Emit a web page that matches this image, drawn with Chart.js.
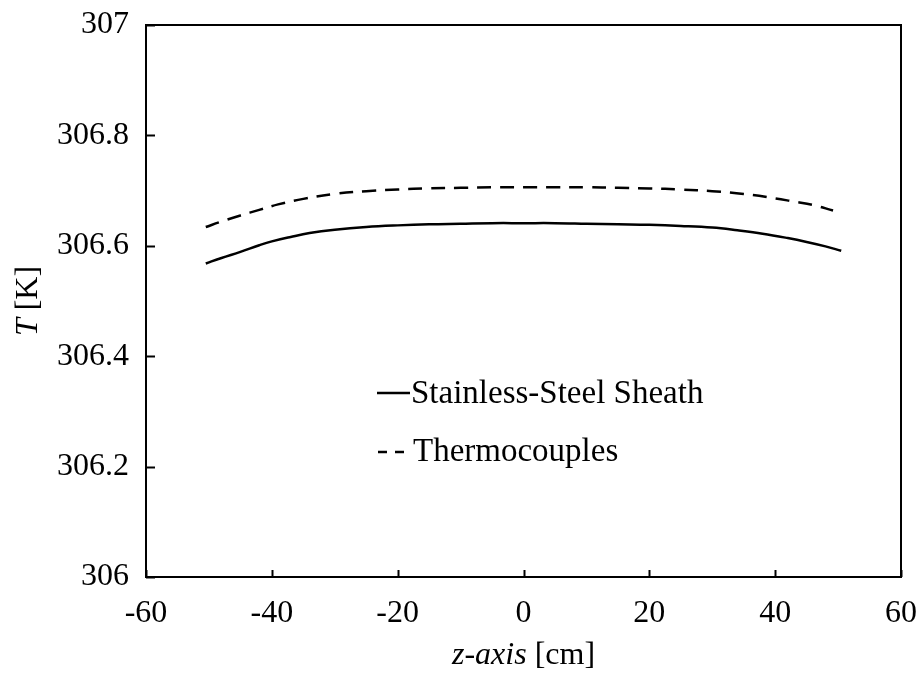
<!DOCTYPE html>
<html>
<head>
<meta charset="utf-8">
<script src="https://cdn.jsdelivr.net/npm/chart.js@4.4.1/dist/chart.umd.min.js"></script>
<style>
  html, body { margin: 0; padding: 0; background: #fff; }
  #wrap { width: 923px; height: 678px; position: relative; }
</style>
</head>
<body>
<div id="wrap"><canvas id="chart"></canvas></div>
<script>
// z position [cm] and temperature [K]
const sheathZ = [-50.5, -48, -45, -42, -40, -37, -34, -30, -25, -20, -15, -10, -5, 0, 5, 10, 15, 20, 25, 30, 34, 38, 42, 45, 48, 50.5];
const sheathT = [306.568, 306.578, 306.589, 306.601, 306.608, 306.616, 306.623, 306.629, 306.634, 306.637, 306.639, 306.640, 306.641, 306.641, 306.641, 306.640, 306.639, 306.638, 306.636, 306.633, 306.628, 306.622, 306.614, 306.607, 306.599, 306.591];

const thermoZ = [-50.5, -48, -45, -42, -39, -35, -30, -25, -20, -15, -10, -5, 0, 5, 10, 15, 20, 25, 30, 35, 40, 43, 46, 49.2];
const thermoT = [306.634, 306.644, 306.655, 306.665, 306.675, 306.685, 306.694, 306.699, 306.702, 306.704, 306.705, 306.706, 306.706, 306.706, 306.706, 306.705, 306.704, 306.702, 306.699, 306.694, 306.686, 306.680, 306.674, 306.664];

const xTicks = [-60, -40, -20, 0, 20, 40, 60];
const yTicks = [306, 306.2, 306.4, 306.6, 306.8, 307];
const seriesNames = ['Stainless-Steel Sheath', 'Thermocouples'];

const FONT = '"Liberation Serif", "Times New Roman", serif';

function pts(xs, ys) {
  return xs.map((x, i) => ({ x: x, y: ys[i] }));
}

function noPad(scale) {
  scale.paddingTop = 0;
  scale.paddingBottom = 0;
  scale.paddingLeft = 0;
  scale.paddingRight = 0;
}

// frame, inside ticks, axis titles and the in-plot legend
const decor = {
  id: 'decor',
  afterDraw(chart) {
    const ctx = chart.ctx;
    const a = chart.chartArea;
    const xs = chart.scales.x, ys = chart.scales.y;
    ctx.save();
    ctx.strokeStyle = '#000';
    ctx.lineWidth = 2;
    ctx.strokeRect(a.left, a.top, a.right - a.left, a.bottom - a.top);

    // tick marks pointing inward
    xTicks.forEach(v => {
      const px = Math.round(xs.getPixelForValue(v)) + 0.5;
      ctx.beginPath();
      ctx.moveTo(px, a.bottom);
      ctx.lineTo(px, a.bottom - 7);
      ctx.stroke();
    });
    yTicks.forEach(v => {
      const py = Math.round(ys.getPixelForValue(v)) + 0.5;
      ctx.beginPath();
      ctx.moveTo(a.left, py);
      ctx.lineTo(a.left + 9, py);
      ctx.stroke();
    });

    ctx.fillStyle = '#000';
    ctx.textBaseline = 'middle';

    // x title: "z-axis [cm]"
    const xt1 = 'z-axis', xt2 = ' [cm]';
    ctx.font = 'italic 32px ' + FONT;
    const w1 = ctx.measureText(xt1).width;
    ctx.font = '32px ' + FONT;
    const w2 = ctx.measureText(xt2).width;
    let sx = (a.left + a.right) / 2 - (w1 + w2) / 2;
    ctx.textAlign = 'left';
    ctx.font = 'italic 32px ' + FONT;
    ctx.fillText(xt1, sx, 656);
    ctx.font = '32px ' + FONT;
    ctx.fillText(xt2, sx + w1, 656);

    // y title: "T [K]" rotated
    ctx.save();
    ctx.translate(29, (a.top + a.bottom) / 2);
    ctx.rotate(-Math.PI / 2);
    const yt1 = 'T', yt2 = ' [K]';
    ctx.font = 'italic 32px ' + FONT;
    const v1 = ctx.measureText(yt1).width;
    ctx.font = '32px ' + FONT;
    const v2 = ctx.measureText(yt2).width;
    const sy = -(v1 + v2) / 2;
    ctx.font = 'italic 32px ' + FONT;
    ctx.fillText(yt1, sy, 0);
    ctx.font = '32px ' + FONT;
    ctx.fillText(yt2, sy + v1, 0);
    ctx.restore();

    // legend inside plot
    ctx.font = '33px ' + FONT;
    ctx.lineWidth = 2.5;
    ctx.beginPath();
    ctx.moveTo(377, 393);
    ctx.lineTo(410, 393);
    ctx.stroke();
    ctx.fillText(seriesNames[0], 411, 394);

    ctx.setLineDash([9, 8]);
    ctx.beginPath();
    ctx.moveTo(378, 452);
    ctx.lineTo(404, 452);
    ctx.stroke();
    ctx.setLineDash([]);
    ctx.fillText(seriesNames[1], 413, 452);
    ctx.restore();
  }
};

new Chart(document.getElementById('chart'), {
  type: 'scatter',
  data: {
    datasets: [
      {
        label: seriesNames[0],
        data: pts(sheathZ, sheathT),
        showLine: true,
        borderColor: '#000',
        borderWidth: 2.5,
        pointRadius: 0,
        tension: 0.4,
        fill: false
      },
      {
        label: seriesNames[1],
        data: pts(thermoZ, thermoT),
        showLine: true,
        borderColor: '#000',
        borderWidth: 2.5,
        borderDash: [14, 9],
        pointRadius: 0,
        tension: 0.4,
        fill: false
      }
    ]
  },
  options: {
    responsive: true,
    maintainAspectRatio: false,
    animation: false,
    layout: { padding: { top: 25, right: 22, left: 0, bottom: 0 } },
    plugins: {
      legend: { display: false },
      tooltip: { enabled: false }
    },
    scales: {
      x: {
        type: 'linear',
        min: -60,
        max: 60,
        afterFit(scale) { scale.height = 101; noPad(scale); },
        afterBuildTicks(scale) { scale.ticks = xTicks.map(v => ({ value: v })); },
        grid: { display: false, drawTicks: false },
        border: { display: false },
        ticks: {
          color: '#000',
          padding: 17,
          font: { family: FONT, size: 32 }
        }
      },
      y: {
        type: 'linear',
        min: 306,
        max: 307,
        afterFit(scale) { scale.width = 146; noPad(scale); },
        afterBuildTicks(scale) { scale.ticks = yTicks.map(v => ({ value: v })); },
        grid: { display: false, drawTicks: false },
        border: { display: false },
        ticks: {
          color: '#000',
          padding: 17,
          font: { family: FONT, size: 32 },
          callback: v => String(Math.round(v * 10) / 10)
        }
      }
    }
  },
  plugins: [decor]
});
</script>
</body>
</html>
